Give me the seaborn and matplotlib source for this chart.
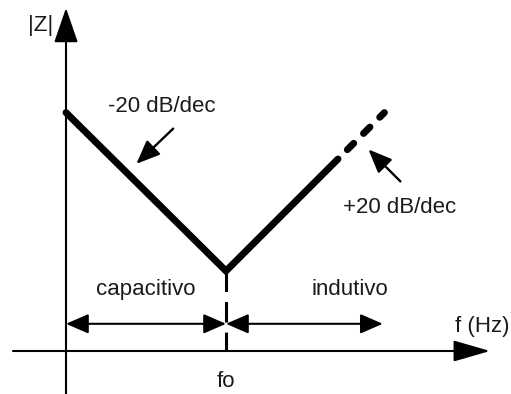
import matplotlib
matplotlib.use("Agg")
import matplotlib.pyplot as plt
import seaborn as sns

# units: one decade of frequency = 1, axes cross at (0, 0)
curve_x = [0.0, 1.0, 1.70]
curve_y = [1.49, 0.50, 1.20]
ext_x = [1.70, 1.99]
ext_y = [1.20, 1.49]
fo = 1.0
band_y = 0.17
band_end = 1.98

labels = {
    "zmag": "|Z|",
    "slope_down": "-20 dB/dec",
    "slope_up": "+20 dB/dec",
    "left_band": "capacitivo",
    "right_band": "indutivo",
    "xname": "f (Hz)",
    "fo": "fo",
}

sns.set_theme(style="white")
plt.rcParams["font.family"] = ["Liberation Sans", "DejaVu Sans"]

PX = 160.0
fig = plt.figure(figsize=(5.11, 3.94), dpi=100)
ax = fig.add_axes([0, 0, 1, 1])
ax.set_xlim(-66 / PX, 445 / PX)
ax.set_ylim(-43 / PX, 351 / PX)
ax.axis("off")

ink = "black"
txt = "#1a1a1a"
fs = 16

# axes with arrow heads
ax.annotate("", xy=(0, 343 / PX), xytext=(0, -43 / PX),
            arrowprops=dict(arrowstyle="-|>,head_length=1.8,head_width=0.62",
                            lw=1.5, color=ink, shrinkA=0, shrinkB=0))
ax.annotate("", xy=(424 / PX, 0), xytext=(-53 / PX, 0),
            arrowprops=dict(arrowstyle="-|>,head_length=1.9,head_width=0.55",
                            lw=1.5, color=ink, shrinkA=0, shrinkB=0))

# asymptotic |Z| curve
sns.lineplot(x=curve_x, y=curve_y, sort=False, estimator=None, ax=ax,
             color=ink, linewidth=5, solid_capstyle="round",
             solid_joinstyle="miter")
sns.lineplot(x=ext_x, y=ext_y, sort=False, estimator=None, ax=ax,
             color=ink, linewidth=5, linestyle=(1.4, (1.3, 2.0)),
             dash_capstyle="round")

# resonance marker
ax.plot([fo, fo], [min(curve_y), 0], color=ink, lw=2.2,
        linestyle=(0, (6.7, 3.3)))

# band arrows
for x0, x1 in [(0, fo), (fo, band_end)]:
    ax.annotate("", xy=(x1, band_y), xytext=(x0, band_y),
                arrowprops=dict(arrowstyle="<|-|>,head_length=1.15,head_width=0.5",
                                lw=1.5, color=ink, shrinkA=0, shrinkB=0))

# slope callouts
callout = dict(arrowstyle="-|>,head_length=1.2,head_width=0.5",
               lw=1.7, color=ink, shrinkA=0, shrinkB=0)
ax.annotate("", xy=(0.44, 1.17), xytext=(0.67, 1.39), arrowprops=callout)
ax.annotate("", xy=(1.89, 1.26), xytext=(2.09, 1.06), arrowprops=callout)

kw = dict(fontsize=fs, color=txt, ha="center", va="baseline")
ax.text(-0.16, 2.0, labels["zmag"], **kw)
ax.text(0.60, 1.494, labels["slope_down"], **kw)
ax.text(2.0875, 0.8625, labels["slope_up"], **kw)
ax.text(0.50, 0.35, labels["left_band"], **kw)
ax.text(1.775, 0.35, labels["right_band"], **kw)
ax.text(2.60, 0.12, labels["xname"], **kw)
ax.text(fo, -0.225, labels["fo"], **kw)

fig.savefig("out.png", dpi=100)
